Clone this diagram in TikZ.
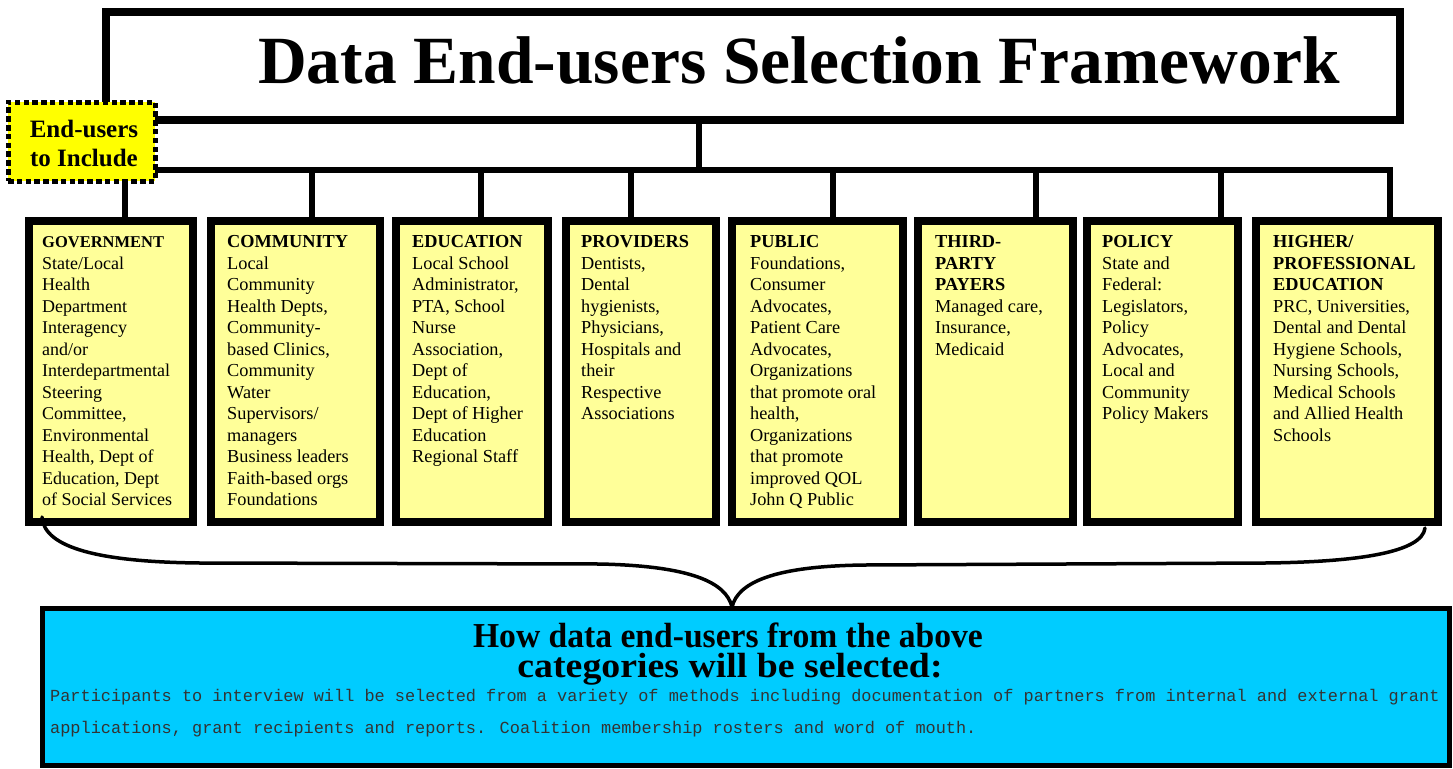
\documentclass[tikz,border=0pt]{standalone}
\usepackage{fontspec}
\setmainfont{Liberation Serif}
\newfontfamily\monofont{Liberation Mono}
\definecolor{paleyellow}{HTML}{FFFF99}
\definecolor{brightyellow}{HTML}{FFFF00}
\definecolor{skycyan}{HTML}{00CCFF}
\tikzset{
  titlebox/.style={draw, line width=7.5pt, fill=white, rectangle, inner sep=0pt, outer sep=0pt},
  tree/.style={line width=6pt, line join=miter},
  colbox/.style={draw, line width=8pt, fill=paleyellow, rectangle, inner sep=0pt, outer sep=0pt, minimum height=301pt},
  % anchored at the baseline of the last line
  coltext/.style={anchor=base west, align=left, inner sep=0pt, font=\fontsize{18.3}{21.5}\selectfont},
  tagbox/.style={draw, line width=5pt, dash pattern=on 5.5pt off 3.3pt, fill=brightyellow, rectangle,
    inner sep=0pt, outer sep=0pt, minimum width=147pt, minimum height=79pt},
  tagtext/.style={anchor=base, align=center, inner sep=0pt, font=\bfseries\fontsize{25}{29}\selectfont},
  bracepath/.style={line width=3.5pt, line cap=round},
  howbox/.style={draw, line width=5pt, fill=skycyan, rectangle, inner sep=0pt, outer sep=0pt},
  howhead/.style={anchor=base, inner sep=0pt, font=\bfseries\fontsize{35}{27}\selectfont},
  howtext/.style={anchor=base west, inner sep=0pt, text=black!80, font=\monofont\fontsize{16.9}{20}\selectfont}
}
\begin{document}
\begin{tikzpicture}[x=1pt,y=-1pt]
\useasboundingbox (0,0) rectangle (1453,768);

% column boxes
\node[colbox, minimum width=164pt] (gov)  at (111,371.5)   {};
\node[colbox, minimum width=169pt] (comm) at (295.5,371.5) {};
\node[colbox, minimum width=152pt] (edu)  at (472,371.5)   {};
\node[colbox, minimum width=150pt] (prov) at (641,371.5)   {};
\node[colbox, minimum width=171pt] (pub)  at (817.5,371.5) {};
\node[colbox, minimum width=155pt] (tpp)  at (995.5,371.5) {};
\node[colbox, minimum width=151pt] (pol)  at (1162.5,371.5){};
\node[colbox, minimum width=182pt] (hpe)  at (1347,371.5)  {};

% branching lines from the title to each column
\coordinate (hub) at (699,170);
\coordinate (b1) at (125,170);
\coordinate (b2) at (312,170);
\coordinate (b3) at (481,170);
\coordinate (b4) at (631,170);
\coordinate (b5) at (833,170);
\coordinate (b6) at (1036,170);
\coordinate (b7) at (1221,170);
\coordinate (b8) at (1390,170);
\draw[tree] (b1 |- gov.north) -- (b1) -- (b8) -- (b8 |- hpe.north);
\draw[tree] (hub) -- (699,120);
\foreach \bp/\nd in {b2/comm, b3/edu, b4/prov, b5/pub, b6/tpp, b7/pol}
  \draw[tree] (\bp) -- (\bp |- \nd.north);

% title
\node[titlebox, minimum width=1294pt, minimum height=108pt] (title) at (753,66) {};
\node[anchor=base, inner sep=0pt, font=\bfseries\fontsize{67.5}{70}\selectfont] (titletext) at (799,84)
  {Data End-users Selection Framework};

% tag box
\node[tagbox] (endusers) at (81.5,141.5) {};
\node[tagtext] (enduserst) at (84,166) {End-users\\to Include};

% column texts
\node[coltext, font=\fontsize{18}{21.5}\selectfont] (govt) at (42,505.5)
  {{\bfseries\fontsize{16.5}{21.5}\selectfont GOVERNMENT}\\State/Local\\Health\\Department\\Interagency\\and/or\\Interdepartmental\\Steering\\Committee,\\Environmental\\Health, Dept of\\Education, Dept\\of Social Services};
\node[coltext] (commt) at (227,505.5)
  {\textbf{COMMUNITY}\\Local\\Community\\Health Depts,\\Community-\\based Clinics,\\Community\\Water\\Supervisors/\\managers\\Business leaders\\Faith-based orgs\\Foundations};
\node[coltext] (edut) at (412,462.5)
  {\textbf{EDUCATION}\\Local School\\Administrator,\\PTA, School\\Nurse\\Association,\\Dept of\\Education,\\Dept of Higher\\Education\\Regional Staff};
\node[coltext] (provt) at (581,419.5)
  {\textbf{PROVIDERS}\\Dentists,\\Dental\\hygienists,\\Physicians,\\Hospitals and\\their\\Respective\\Associations};
\node[coltext] (pubt) at (750,505.5)
  {\textbf{PUBLIC}\\Foundations,\\Consumer\\Advocates,\\Patient Care\\Advocates,\\Organizations\\that promote oral\\health,\\Organizations\\that promote\\improved QOL\\John Q Public};
\node[coltext] (tppt) at (935,355)
  {\textbf{THIRD-}\\\textbf{PARTY}\\\textbf{PAYERS}\\Managed care,\\Insurance,\\Medicaid};
\node[coltext] (polt) at (1102,419.5)
  {\textbf{POLICY}\\State and\\Federal:\\Legislators,\\Policy\\Advocates,\\Local and\\Community\\Policy Makers};
\node[coltext] (hpet) at (1273,441)
  {\textbf{HIGHER/}\\\textbf{PROFESSIONAL}\\\textbf{EDUCATION}\\PRC, Universities,\\Dental and Dental\\Hygiene Schools,\\Nursing Schools,\\Medical Schools\\and Allied Health\\Schools};

% brace gathering the categories
\coordinate (brL) at (42,517);
\coordinate (brM) at (732,607);
\coordinate (brR) at (1425,528);
\draw[bracepath] (brL) .. controls (44,548) and (100,562) .. (200,563) -- (600,564)
  .. controls (690,566) and (726,582) .. (brM)
  .. controls (738,582) and (775,566) .. (865,565) -- (1265,563)
  .. controls (1360,562) and (1422,552) .. (brR);

% selection method box
\node[howbox, minimum width=1407pt, minimum height=157pt] (how) at (745.5,687) {};
\node[howhead] (howh1) at (728,647) {\scalebox{0.96}[1]{How data end-users from the above}};
\node[howhead] (howh2) at (730,677) {\scalebox{1.08}[1]{categories will be selected:}};
\node[howtext] (howl1) at (50,701)
  {Participants to interview will be selected from a variety of methods including documentation of partners from internal and external grant};
\node[howtext] (howl2) at (50,733)
  {applications, grant recipients and reports. Coalition membership rosters and word of mouth.};
\end{tikzpicture}
\end{document}
